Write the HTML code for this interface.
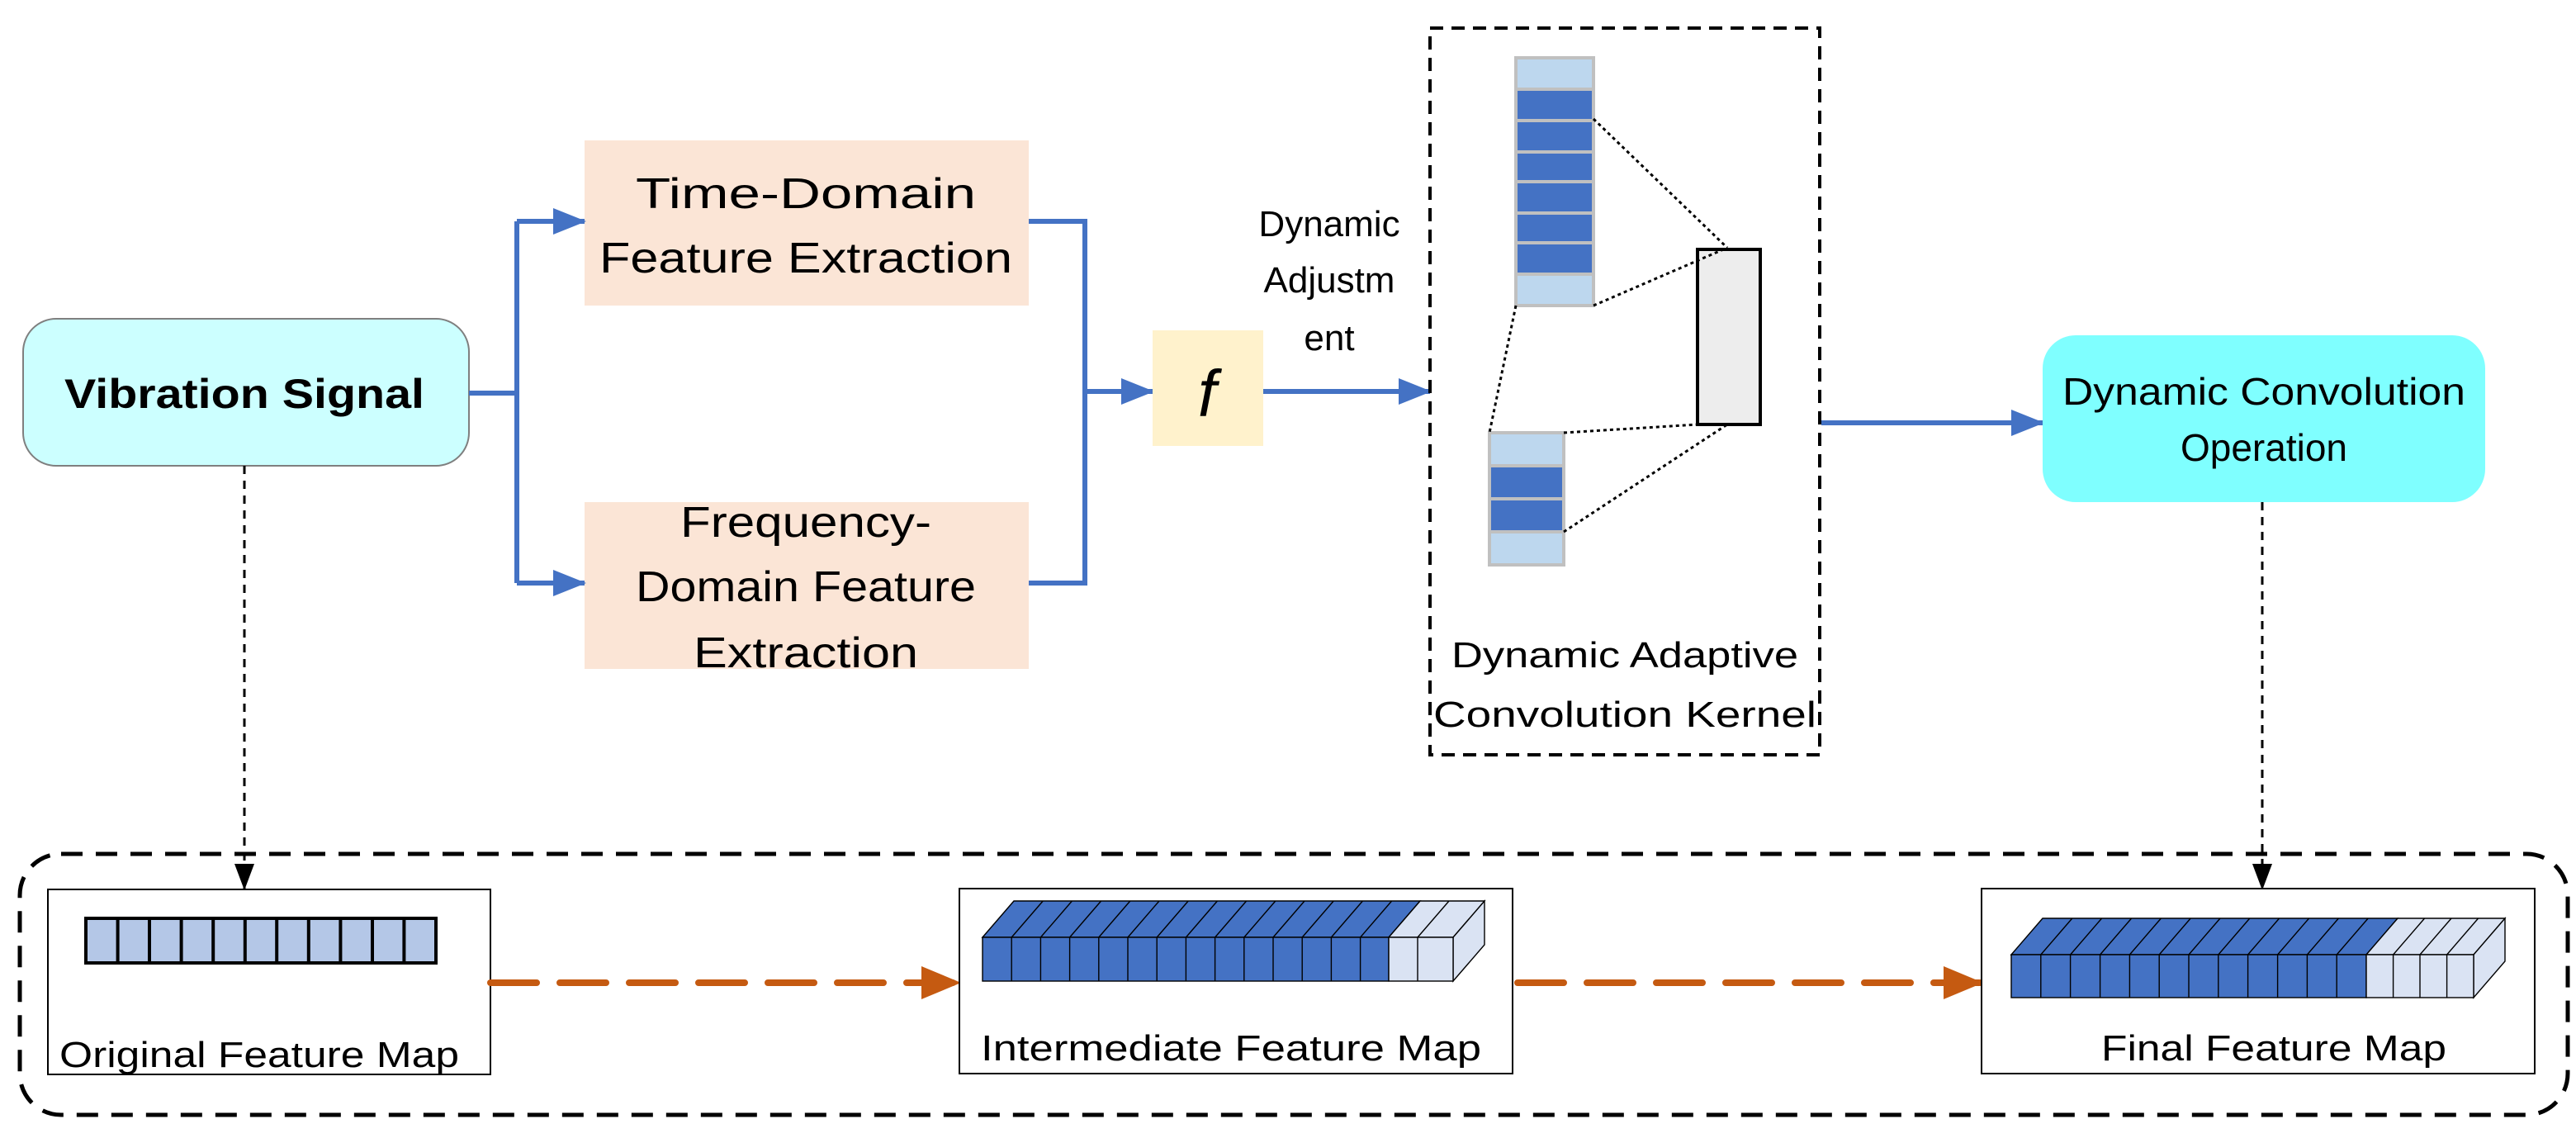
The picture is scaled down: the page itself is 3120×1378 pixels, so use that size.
<!DOCTYPE html>
<html><head><meta charset="utf-8"><style>
html,body{margin:0;padding:0;background:#fff;}
svg{display:block;}
text{font-family:"Liberation Sans",sans-serif;fill:#000;}
</style></head><body>
<svg width="3120" height="1378" viewBox="0 0 1560 689" xmlns="http://www.w3.org/2000/svg">
<defs>
<marker id="ab" markerWidth="20" markerHeight="16" refX="19" refY="8" orient="auto" markerUnits="userSpaceOnUse" viewBox="0 0 20 16"><path d="M0,0 L20,8 L0,16 z" fill="#4472C4"/></marker>
<marker id="ak" markerWidth="16" markerHeight="12" refX="15" refY="6" orient="auto" markerUnits="userSpaceOnUse" viewBox="0 0 16 12"><path d="M0,0 L16,6 L0,12 z" fill="#000"/></marker>
<marker id="ao" markerWidth="24" markerHeight="20" refX="23" refY="10" orient="auto" markerUnits="userSpaceOnUse" viewBox="0 0 24 20"><path d="M0,0 L24,10 L0,20 z" fill="#C55A11"/></marker>
</defs>

<rect x="14" y="193" width="270" height="89" rx="20" fill="#CCFFFF" stroke="#7f7f7f" stroke-width="1"/>
<text x="148" y="247" font-size="25" font-weight="bold" text-anchor="middle" textLength="218" lengthAdjust="spacingAndGlyphs">Vibration Signal</text>

<rect x="354" y="85" width="269" height="100" fill="#FBE5D6"/>
<text x="488" y="126" font-size="26" text-anchor="middle" textLength="206" lengthAdjust="spacingAndGlyphs">Time-Domain</text>
<text x="488" y="165" font-size="26" text-anchor="middle" textLength="250" lengthAdjust="spacingAndGlyphs">Feature Extraction</text>
<rect x="354" y="304" width="269" height="101" fill="#FBE5D6"/>
<text x="488" y="325" font-size="26" text-anchor="middle" textLength="152" lengthAdjust="spacingAndGlyphs">Frequency-</text>
<text x="488" y="364" font-size="26" text-anchor="middle" textLength="206" lengthAdjust="spacingAndGlyphs">Domain Feature</text>
<text x="488" y="404" font-size="26" text-anchor="middle" textLength="136" lengthAdjust="spacingAndGlyphs">Extraction</text>

<g stroke="#4472C4" stroke-width="3" fill="none">
<path d="M284,238 H313 M313,134 V353"/>
<path d="M313,134 H354" marker-end="url(#ab)"/>
<path d="M313,353 H354" marker-end="url(#ab)"/>
<path d="M623,134 H657 V353 H623"/>
<path d="M657,237 H698" marker-end="url(#ab)"/>
<path d="M765,237 H866" marker-end="url(#ab)"/>
<path d="M1103,256 H1237" marker-end="url(#ab)"/>
</g>

<rect x="698" y="200" width="67" height="70" fill="#FFF2CC"/>
<text x="731" y="252" font-size="40" font-style="italic" text-anchor="middle" font-family="Liberation Serif,serif">f</text>

<text x="805" y="143" font-size="22" text-anchor="middle">Dynamic</text>
<text x="805" y="177" font-size="22" text-anchor="middle">Adjustm</text>
<text x="805" y="212" font-size="22" text-anchor="middle">ent</text>

<rect x="866" y="17" width="236" height="440" fill="none" stroke="#000" stroke-width="2" stroke-dasharray="8,5"/>
<g stroke="#C0C0C0" stroke-width="2">
<rect x="918" y="35" width="47" height="150" fill="#BDD7EE"/>
<rect x="918" y="54" width="47" height="19" fill="#4472C4"/>
<rect x="918" y="73" width="47" height="19" fill="#4472C4"/>
<rect x="918" y="92" width="47" height="18" fill="#4472C4"/>
<rect x="918" y="110" width="47" height="19" fill="#4472C4"/>
<rect x="918" y="129" width="47" height="18" fill="#4472C4"/>
<rect x="918" y="147" width="47" height="19" fill="#4472C4"/>
<rect x="902" y="262" width="45" height="80" fill="#BDD7EE"/>
<rect x="902" y="282" width="45" height="20" fill="#4472C4"/>
<rect x="902" y="302" width="45" height="20" fill="#4472C4"/>
</g>
<rect x="1028" y="151" width="38" height="106" fill="#EDEDED" stroke="#000" stroke-width="2"/>
<g stroke="#000" stroke-width="1.5" stroke-dasharray="2,2" fill="none">
<path d="M965,72 L1046,150"/>
<path d="M965,185 L1046,150"/>
<path d="M918,185 L902,262"/>
<path d="M947,262 L1028,257"/>
<path d="M947,322 L1046,257"/>
</g>
<text x="984" y="404" font-size="22" text-anchor="middle" textLength="210" lengthAdjust="spacingAndGlyphs">Dynamic Adaptive</text>
<text x="984" y="440" font-size="22" text-anchor="middle" textLength="232" lengthAdjust="spacingAndGlyphs">Convolution Kernel</text>

<rect x="1237" y="203" width="268" height="101" rx="20" fill="#7FFFFF"/>
<text x="1371" y="245" font-size="23" text-anchor="middle" textLength="244" lengthAdjust="spacingAndGlyphs">Dynamic Convolution</text>
<text x="1371" y="279" font-size="23" text-anchor="middle">Operation</text>

<g stroke="#000" stroke-width="1.5" stroke-dasharray="5,4" fill="none">
<path d="M148,282 V538" marker-end="url(#ak)"/>
<path d="M1370,304 V538" marker-end="url(#ak)"/>
</g>

<rect x="12" y="517" width="1543" height="158" rx="25" fill="none" stroke="#000" stroke-width="2.5" stroke-dasharray="13,8"/>

<rect x="29" y="538.5" width="268" height="112" fill="#fff" stroke="#000" stroke-width="1"/>
<rect x="52" y="556" width="212" height="27" fill="#B4C7E7" stroke="#000" stroke-width="2"/>
<g stroke="#000" stroke-width="2">
<path d="M71.3,556V583 M90.5,556V583 M109.8,556V583 M129.1,556V583 M148.4,556V583 M167.6,556V583 M186.9,556V583 M206.2,556V583 M225.5,556V583 M244.7,556V583"/>
</g>
<text x="36" y="646" font-size="22" textLength="242" lengthAdjust="spacingAndGlyphs">Original Feature Map</text>

<g stroke="#C55A11" stroke-width="4" stroke-dasharray="28,14" fill="none" stroke-linecap="round">
<path d="M297,595 H581" marker-end="url(#ao)"/>
<path d="M919,595 H1200" marker-end="url(#ao)"/>
</g>

<rect x="581" y="538" width="335" height="112" fill="#fff" stroke="#000" stroke-width="1"/>
<g stroke="#000" stroke-width="0.7">
<path d="M595,567.5 L614,545.5 L860,545.5 L841,567.5 Z" fill="#4472C4"/>
<path d="M841,567.5 L860,545.5 L899,545.5 L880,567.5 Z" fill="#DAE3F3"/>
<path d="M880,567.5 L899,545.5 L899,572 L880,594 Z" fill="#DAE3F3"/>
<rect x="595" y="567.5" width="246" height="26.5" fill="#4472C4"/>
<rect x="841" y="567.5" width="39" height="26.5" fill="#DAE3F3"/>
<path d="M612.6,567.5V594 M630.2,567.5V594 M647.8,567.5V594 M665.4,567.5V594 M683,567.5V594 M700.6,567.5V594 M718.2,567.5V594 M735.8,567.5V594 M753.4,567.5V594 M771,567.5V594 M788.6,567.5V594 M806.2,567.5V594 M823.8,567.5V594 M858.5,567.5V594"/>
<path d="M612.6,567.5L631.6,545.5 M630.2,567.5L649.2,545.5 M647.8,567.5L666.8,545.5 M665.4,567.5L684.4,545.5 M683,567.5L702,545.5 M700.6,567.5L719.6,545.5 M718.2,567.5L737.2,545.5 M735.8,567.5L754.8,545.5 M753.4,567.5L772.4,545.5 M771,567.5L790,545.5 M788.6,567.5L807.6,545.5 M806.2,567.5L825.2,545.5 M823.8,567.5L842.8,545.5 M858.5,567.5L877.5,545.5"/>
</g>
<text x="594" y="642" font-size="22" textLength="303" lengthAdjust="spacingAndGlyphs">Intermediate Feature Map</text>

<rect x="1200" y="538" width="335" height="112" fill="#fff" stroke="#000" stroke-width="1"/>
<g stroke="#000" stroke-width="0.7">
<path d="M1218,578 L1237,556 L1452,556 L1433,578 Z" fill="#4472C4"/>
<path d="M1433,578 L1452,556 L1517,556 L1498,578 Z" fill="#DAE3F3"/>
<path d="M1498,578 L1517,556 L1517,582 L1498,604 Z" fill="#DAE3F3"/>
<rect x="1218" y="578" width="215" height="26" fill="#4472C4"/>
<rect x="1433" y="578" width="65" height="26" fill="#DAE3F3"/>
<path d="M1235.9,578V604 M1253.8,578V604 M1271.8,578V604 M1289.7,578V604 M1307.6,578V604 M1325.5,578V604 M1343.4,578V604 M1361.3,578V604 M1379.3,578V604 M1397.2,578V604 M1415.1,578V604 M1449.3,578V604 M1465.5,578V604 M1481.8,578V604"/>
<path d="M1235.9,578L1254.9,556 M1253.8,578L1272.8,556 M1271.8,578L1290.8,556 M1289.7,578L1308.7,556 M1307.6,578L1326.6,556 M1325.5,578L1344.5,556 M1343.4,578L1362.4,556 M1361.3,578L1380.3,556 M1379.3,578L1398.3,556 M1397.2,578L1416.2,556 M1415.1,578L1434.1,556 M1449.3,578L1468.3,556 M1465.5,578L1484.5,556 M1481.8,578L1500.8,556"/>
</g>
<text x="1377" y="642" font-size="22" text-anchor="middle" textLength="209" lengthAdjust="spacingAndGlyphs">Final Feature Map</text>
</svg>
</body></html>
